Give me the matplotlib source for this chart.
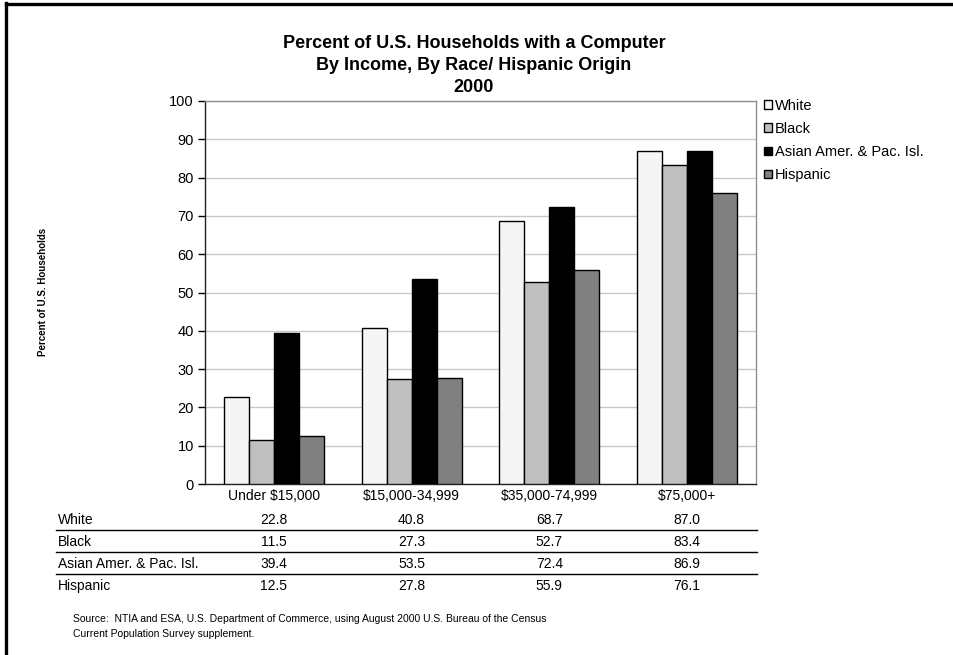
import matplotlib
matplotlib.use("Agg")
import numpy as np
import matplotlib.pyplot as plt
import matplotlib.transforms as mtransforms
from matplotlib.lines import Line2D

plt.rcParams['font.family'] = ['Liberation Sans', 'DejaVu Sans']

# data
categories = ["Under $15,000", "$15,000-34,999", "$35,000-74,999", "$75,000+"]
series_names = ["White", "Black", "Asian Amer. & Pac. Isl.", "Hispanic"]
white = [22.8, 40.8, 68.7, 87.0]
black = [11.5, 27.3, 52.7, 83.4]
asian = [39.4, 53.5, 72.4, 86.9]
hispanic = [12.5, 27.8, 55.9, 76.1]
series_values = [white, black, asian, hispanic]
series_colors = ["#f5f5f5", "#c0c0c0", "#000000", "#808080"]

W, H = 954, 655
fig = plt.figure(figsize=(W / 100, H / 100), dpi=100)

def fx(px):
    return px / W

def fy(px):
    return 1 - px / H

# plot area in pixels: x 205..756, y 101..484
ax = fig.add_axes([fx(205), fy(484), fx(756) - fx(205), fy(101) - fy(484)])

x = np.arange(len(categories))
bw = 0.1815
for i, (vals, name, col) in enumerate(zip(series_values, series_names, series_colors)):
    ax.bar(x + (i - 1.5) * bw, vals, bw, color=col, edgecolor="black",
           linewidth=1, label=name, zorder=3)

ax.set_xlim(-0.5, len(categories) - 0.5)
ax.set_ylim(0, 100)
ax.set_yticks(range(0, 101, 10))
ax.tick_params(axis="y", labelsize=10.5, length=5, width=1, direction="out", pad=3)
ax.set_xticks([])
ax.yaxis.grid(True, color="#c8c8c8", linewidth=1, zorder=0)
ax.set_axisbelow(True)
for side in ["left", "bottom"]:
    ax.spines[side].set_color("#222222")
    ax.spines[side].set_linewidth(1)
for side in ["top", "right"]:
    ax.spines[side].set_color("#909090")
    ax.spines[side].set_linewidth(1)

# titles
title_lines = ["Percent of U.S. Households with a Computer",
               "By Income, By Race/ Hispanic Origin", "2000"]
for t, ypx in zip(title_lines, [44, 65, 87]):
    fig.text(fx(474), fy(ypx), t, ha="center", va="center",
             fontsize=13, fontweight="bold")

fig.text(fx(43), fy(292), "Percent of U.S. Households", rotation=90,
         ha="center", va="center", fontsize=7, fontweight="bold")

# legend
ax.legend(loc="upper left", bbox_to_anchor=(fx(764), fy(99)),
          bbox_transform=fig.transFigure, frameon=False, fontsize=10.5,
          handlelength=0.55, handleheight=0.55, handletextpad=0.2,
          labelspacing=0.62, borderpad=0, borderaxespad=0)

# data table below the chart
trans = mtransforms.blended_transform_factory(ax.transData, fig.transFigure)
for xi, cat in zip(x, categories):
    fig.text(xi, fy(496), cat, transform=trans, ha="center", va="center",
             fontsize=10)

row_y = [520, 542, 564, 586]
for name, vals, ypx in zip(series_names, series_values, row_y):
    fig.text(fx(58), fy(ypx), name, ha="left", va="center", fontsize=10)
    for xi, v in zip(x, vals):
        fig.text(xi, fy(ypx), f"{v:.1f}", transform=trans, ha="center",
                 va="center", fontsize=10)

for ypx in [530, 552, 574]:
    fig.add_artist(Line2D([fx(56), fx(757)], [fy(ypx), fy(ypx)],
                          color="black", linewidth=1))

fig.text(fx(73), fy(619),
         "Source:  NTIA and ESA, U.S. Department of Commerce, using August 2000 U.S. Bureau of the Census",
         ha="left", va="center", fontsize=7.5)
fig.text(fx(73), fy(634), "Current Population Survey supplement.",
         ha="left", va="center", fontsize=7.5)

# frame: top and left edges
fig.add_artist(Line2D([fx(6.5), 1], [fy(4), fy(4)], color="black", linewidth=2.4))
fig.add_artist(Line2D([fx(6.5), fx(6.5)], [fy(3), 0], color="black", linewidth=2.4))

fig.savefig("out.png", dpi=100)
